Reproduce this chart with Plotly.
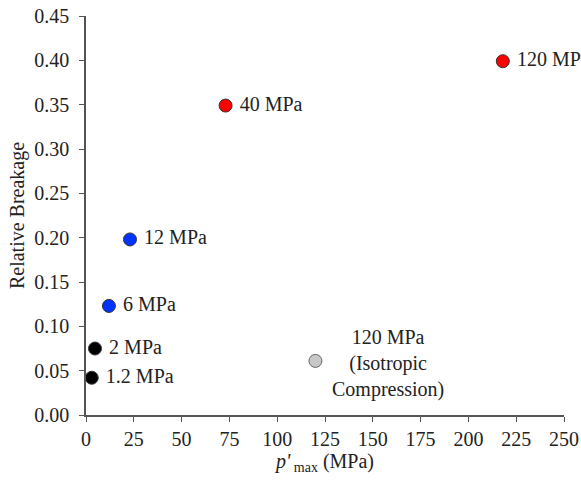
import plotly.graph_objects as go

labels = ["1.2 MPa", "2 MPa", "6 MPa", "12 MPa", "40 MPa", "120 MPa"]
pmax = [3.0, 4.7, 12.0, 23.0, 73.0, 218.0]
breakage = [0.042, 0.075, 0.123, 0.198, 0.349, 0.399]
colors = ["#000000", "#000000", "#0033ff", "#0033ff", "#ff0000", "#ff0000"]

iso_label = "120 MPa<br>(Isotropic<br>Compression)"
iso_pmax = [120.0]
iso_breakage = [0.061]

xticks = [0, 25, 50, 75, 100, 125, 150, 175, 200, 225, 250]
yticks = [0.00, 0.05, 0.10, 0.15, 0.20, 0.25, 0.30, 0.35, 0.40, 0.45]

font = dict(family="Liberation Serif", size=20, color="#222222")

fig = go.Figure()
fig.add_trace(go.Scatter(
    x=pmax, y=breakage, mode="markers+text",
    text=[" " + t for t in labels], textposition="middle right",
    textfont=font,
    marker=dict(size=13, color=colors, line=dict(color="#333333", width=1)),
    cliponaxis=False, showlegend=False,
))
fig.add_trace(go.Scatter(
    x=iso_pmax, y=iso_breakage, mode="markers",
    marker=dict(size=13, color="#c8c8c8", line=dict(color="#666666", width=1)),
    cliponaxis=False, showlegend=False,
))
fig.add_annotation(x=158, y=0.058, text=iso_label, showarrow=False,
                   align="center", font=font, xanchor="center", yanchor="middle")

axis_common = dict(showgrid=False, zeroline=False, showline=True, linecolor="#555555",
                   linewidth=1.5, ticks="outside", ticklen=5, tickcolor="#555555",
                   tickfont=font, automargin=False)
fig.update_xaxes(range=[0, 250], tickvals=xticks, ticktext=[str(v) for v in xticks],
                 title=dict(text="<i>p'</i><sub> max</sub> (MPa)", font=font, standoff=2),
                 **axis_common)
fig.update_yaxes(range=[0, 0.45], tickvals=yticks, ticktext=[f"{v:.2f}" for v in yticks],
                 ticklabelstandoff=6,
                 title=dict(text="Relative Breakage", font=font, standoff=4),
                 **axis_common)
fig.update_layout(width=581, height=480, margin=dict(l=86, r=17, t=16, b=65),
                  plot_bgcolor="white", paper_bgcolor="white")
fig.write_html("out.html", config={"displayModeBar": False},
               post_script="document.body.style.margin='0';document.body.style.overflow='hidden';")
